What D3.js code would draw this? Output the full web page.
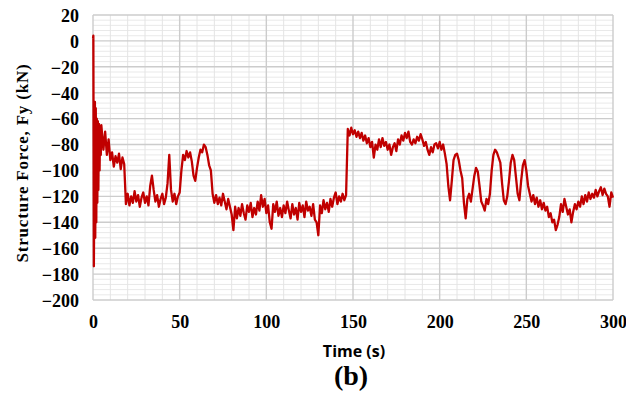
<!DOCTYPE html>
<html>
<head>
<meta charset="utf-8">
<script src="https://cdn.jsdelivr.net/npm/d3@7"></script>
<style>
  body { margin: 0; background: #fff; }
  .tick-lbl { font-family: "Liberation Serif", "Times New Roman", serif; font-weight: bold; font-size: 18px; fill: #000; }
</style>
</head>
<body>
<svg></svg>
<script>
// onset transient, [time, force]
const onset = [
  [0, 2], [0.2, 4], [0.5, -174], [0.8, -100], [1.1, -47], [1.3, -152], [1.6, -52],
  [1.9, -140], [2.2, -60], [2.5, -125], [2.8, -62], [3.1, -115], [3.4, -64],
  [3.8, -100], [4.1, -66], [4.5, -88], [4.8, -65]
];
// force sampled every second from t = 5 s
const startTime = 5, step = 1;
const force = [
  -68, -84, -70, -88, -76,
  -92, -86, -97, -89, -94, -87, -99, -90, -95, -126,
  -118, -127, -120, -125, -116, -124, -119, -128, -121, -117,
  -125, -120, -127, -112, -104, -115, -124, -119, -128, -122,
  -118, -126, -121, -110, -88, -115, -124, -118, -126, -120,
  -117, -100, -88, -92, -85, -90, -86, -93, -104, -108,
  -98, -90, -84, -86, -80, -82, -88, -96, -100, -118,
  -125, -119, -126, -121, -127, -118, -124, -130, -122, -128,
  -134, -146, -128, -137, -129, -135, -126, -133, -138, -127,
  -132, -125, -136, -129, -134, -124, -131, -119, -128, -122,
  -133, -127, -140, -145, -126, -132, -124, -135, -129, -136,
  -127, -133, -124, -131, -137, -126, -134, -129, -138, -125,
  -132, -127, -136, -124, -131, -128, -135, -126, -138, -140,
  -150, -127, -133, -123, -130, -125, -132, -122, -128, -121,
  -117, -126, -120, -124, -118, -123, -119, -68, -73, -67,
  -72, -69, -74, -70, -75, -71, -77, -73, -79, -75,
  -82, -78, -90, -80, -84, -76, -82, -75, -81, -78,
  -84, -80, -88, -82, -79, -85, -76, -80, -73, -77,
  -71, -75, -70, -78, -80, -76, -79, -74, -77, -72,
  -76, -81, -78, -84, -88, -82, -86, -80, -79, -83,
  -78, -84, -80, -87, -95, -112, -123, -108, -92, -88,
  -87, -92, -100, -106, -125, -137, -122, -118, -124, -114,
  -104, -98, -101, -112, -124, -127, -131, -122, -126, -118,
  -100, -88, -84, -86, -90, -94, -110, -123, -126, -120,
  -108, -94, -88, -92, -105, -118, -123, -108, -96, -92,
  -100, -112, -118, -124, -119, -126, -121, -128, -123, -130,
  -125, -131, -128, -136, -133, -140, -138, -146, -142, -136,
  -126, -132, -122, -128, -134, -130, -140, -132, -126, -130,
  -124, -128, -120, -126, -119, -124, -117, -122, -118, -121,
  -115, -120, -116, -113, -119, -114, -118, -120, -128, -117,
  -121
];
const xTicks = [0, 50, 100, 150, 200, 250, 300];
const yTicks = [20, 0, -20, -40, -60, -80, -100, -120, -140, -160, -180, -200];

let width = 626, height = 398,
    margin = {top: 15, right: 13, bottom: 98, left: 93};

let series = onset.concat(force.map((v, i) => [startTime + i * step, v]));

let x = d3.scaleLinear().domain([0, 300]).range([margin.left, width - margin.right]),
    y = d3.scaleLinear().domain([-200, 20]).range([height - margin.bottom, margin.top]);

let svg = d3.select('svg').attr('width', width).attr('height', height);

// minor grid
svg.append('g').selectAll('line')
  .data(d3.range(-200, 21, 4).filter(d => d % 20 != 0))
  .enter().append('line')
    .attr('x1', x(0)).attr('x2', x(300))
    .attr('y1', d => y(d)).attr('y2', d => y(d))
    .attr('stroke', '#e9e9e9').attr('stroke-width', 1);
svg.append('g').selectAll('line')
  .data(d3.range(0, 301, 10).filter(d => d % 50 != 0))
  .enter().append('line')
    .attr('x1', d => x(d)).attr('x2', d => x(d))
    .attr('y1', y(20)).attr('y2', y(-200))
    .attr('stroke', '#e4e4e4').attr('stroke-width', 1);

// major grid
svg.append('g').selectAll('line')
  .data(yTicks)
  .enter().append('line')
    .attr('x1', x(0)).attr('x2', x(300))
    .attr('y1', d => y(d)).attr('y2', d => y(d))
    .attr('stroke', '#cccccc').attr('stroke-width', 1.4);
svg.append('g').selectAll('line')
  .data(xTicks)
  .enter().append('line')
    .attr('x1', d => x(d)).attr('x2', d => x(d))
    .attr('y1', y(20)).attr('y2', y(-200))
    .attr('stroke', '#cccccc').attr('stroke-width', 1.4);

// axes labels via d3 axes, lines hidden
let yAxis = svg.append('g')
  .attr('transform', `translate(${margin.left},0)`)
  .call(d3.axisLeft(y).tickValues(yTicks).tickSize(0).tickPadding(14));
let xAxis = svg.append('g')
  .attr('transform', `translate(0,${height - margin.bottom})`)
  .call(d3.axisBottom(x).tickValues(xTicks).tickSize(0).tickPadding(15));
[xAxis, yAxis].forEach(a => {
  a.select('.domain').remove();
  a.selectAll('text').attr('class', 'tick-lbl').attr('font-size', null).attr('font-family', null);
});
yAxis.selectAll('text').attr('dy', '0.35em');

svg.append('path')
  .datum(series)
  .attr('fill', 'none')
  .attr('stroke', '#c00000')
  .attr('stroke-width', 2.3)
  .attr('stroke-linejoin', 'round')
  .attr('d', d3.line().x(d => x(d[0])).y(d => y(d[1])));

svg.append('text')
  .attr('x', 354).attr('y', 357)
  .attr('text-anchor', 'middle')
  .style('font-family', '"Open Sans", sans-serif')
  .style('font-weight', 'bold')
  .style('font-size', '16px')
  .text('Time (s)');

svg.append('text')
  .attr('transform', 'translate(28,163) rotate(-90)')
  .attr('text-anchor', 'middle')
  .style('font-family', '"Liberation Serif", serif')
  .style('font-weight', 'bold')
  .style('font-size', '17px')
  .style('letter-spacing', '0.8px')
  .text('Structure Force, Fy (kN)');

svg.append('text')
  .attr('x', 351).attr('y', 385)
  .attr('text-anchor', 'middle')
  .style('font-family', '"Liberation Serif", serif')
  .style('font-weight', 'bold')
  .style('font-size', '28px')
  .text('(b)');
</script>
</body>
</html>
